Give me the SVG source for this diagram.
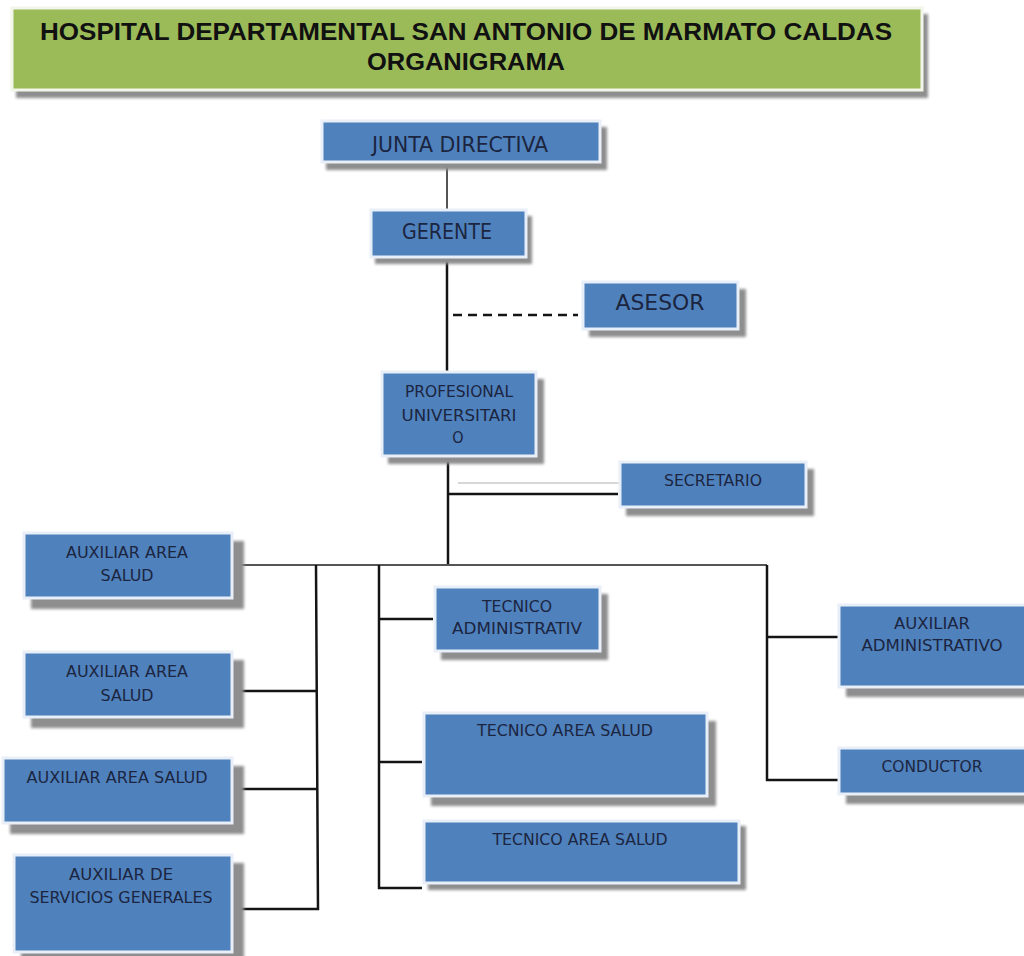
<svg xmlns="http://www.w3.org/2000/svg" width="1024" height="956" viewBox="0 0 1024 956">
<defs>
<filter id="blur" x="-10%" y="-10%" width="120%" height="130%"><feGaussianBlur stdDeviation="1.6"/></filter>
<style>
.sh{fill:#8e8e8e;filter:url(#blur)}
.box{fill:#4f81bd;stroke:#e8eff8;stroke-width:3}
.t{font-family:"DejaVu Sans Condensed","Liberation Sans",sans-serif;fill:#1c2540;text-anchor:middle;font-size:16px}
.tb{font-size:21px}
.title{font-family:"Liberation Sans",Arial,sans-serif;font-weight:bold;fill:#111;text-anchor:middle;font-size:23px}
.c{fill:none;stroke:#141414;stroke-width:2.5}
.cg{fill:none;stroke:#555;stroke-width:2}
</style>
</defs>
<rect width="1024" height="956" fill="#ffffff"/>
<g id="title">
<rect class="sh" x="16" y="14" width="912" height="84"/>
<rect x="12" y="8" width="910" height="82" fill="#9bbb59" stroke="#f2f6ea" stroke-width="3"/>
<text class="title" x="466" y="40" textLength="852" lengthAdjust="spacingAndGlyphs">HOSPITAL DEPARTAMENTAL SAN ANTONIO DE MARMATO CALDAS</text>
<text class="title" x="466" y="70" textLength="198" lengthAdjust="spacingAndGlyphs">ORGANIGRAMA</text>
</g>
<g id="connectors">
<line class="cg" x1="447" y1="163" x2="447" y2="210" stroke-width="1.6"/>
<line class="c" x1="447" y1="257" x2="447" y2="372" stroke="#333" stroke-width="2"/>
<line class="c" x1="453" y1="315" x2="578" y2="315" stroke-width="3" stroke-dasharray="9 6"/>
<line class="c" x1="448" y1="456" x2="448" y2="566"/>
<line class="c" x1="448" y1="494" x2="618" y2="494"/>
<line x1="458" y1="483" x2="620" y2="483" stroke="#b0b0b0" stroke-width="1.2"/>
<polyline class="cg" points="238,565 767,565"/>
<polyline class="c" points="767,565 767,780 839,780"/>
<line class="c" x1="767" y1="637" x2="839" y2="637"/>
<polyline class="c" points="316,565 318,909 238,909"/>
<line class="c" x1="235" y1="691" x2="317" y2="691"/>
<line class="c" x1="235" y1="789" x2="318" y2="789"/>
<polyline class="c" points="379,565 379,888 422,888"/>
<line class="c" x1="379" y1="619" x2="433" y2="619"/>
<line class="c" x1="379" y1="762" x2="422" y2="762"/>
</g>
<g id="junta">
<rect class="sh" x="326" y="127" width="281" height="43"/>
<rect class="box" x="322" y="121" width="278" height="41"/>
<text class="t tb" x="460" y="152" textLength="176" lengthAdjust="spacingAndGlyphs">JUNTA DIRECTIVA</text>
</g>
<g id="gerente">
<rect class="sh" x="375" y="216" width="157" height="48"/>
<rect class="box" x="371" y="210" width="155" height="47"/>
<text class="t tb" x="447" y="239" textLength="90" lengthAdjust="spacingAndGlyphs">GERENTE</text>
</g>
<g id="asesor">
<rect class="sh" x="589" y="289" width="157" height="48"/>
<rect class="box" x="583" y="282" width="155" height="47"/>
<text class="t tb" x="660" y="310" textLength="89" lengthAdjust="spacingAndGlyphs">ASESOR</text>
</g>
<g id="profesional">
<rect class="sh" x="388" y="379" width="156" height="85"/>
<rect class="box" x="382" y="372" width="154" height="84"/>
<text class="t" x="459" y="397" textLength="108" lengthAdjust="spacingAndGlyphs">PROFESIONAL</text>
<text class="t" x="459" y="421" textLength="115" lengthAdjust="spacingAndGlyphs">UNIVERSITARI</text>
<text class="t" x="458" y="443">O</text>
</g>
<g id="secretario">
<rect class="sh" x="626" y="469" width="188" height="47"/>
<rect class="box" x="620" y="462" width="186" height="45"/>
<text class="t" x="713" y="486" textLength="98" lengthAdjust="spacingAndGlyphs">SECRETARIO</text>
</g>
<g id="aux1">
<rect class="sh" x="31" y="541" width="213" height="68"/>
<rect class="box" x="24" y="533" width="208" height="65"/>
<text class="t" x="127" y="558" textLength="122" lengthAdjust="spacingAndGlyphs">AUXILIAR AREA</text>
<text class="t" x="127" y="581" textLength="53" lengthAdjust="spacingAndGlyphs">SALUD</text>
</g>
<g id="aux2">
<rect class="sh" x="31" y="660" width="213" height="68"/>
<rect class="box" x="24" y="652" width="208" height="65"/>
<text class="t" x="127" y="677" textLength="122" lengthAdjust="spacingAndGlyphs">AUXILIAR AREA</text>
<text class="t" x="127" y="701" textLength="53" lengthAdjust="spacingAndGlyphs">SALUD</text>
</g>
<g id="aux3">
<rect class="sh" x="10" y="766" width="234" height="68"/>
<rect class="box" x="3" y="758" width="229" height="65"/>
<text class="t" x="117" y="783" textLength="181" lengthAdjust="spacingAndGlyphs">AUXILIAR AREA SALUD</text>
</g>
<g id="aux4">
<rect class="sh" x="21" y="863" width="223" height="100"/>
<rect class="box" x="14" y="855" width="218" height="97"/>
<text class="t" x="121" y="880" textLength="104" lengthAdjust="spacingAndGlyphs">AUXILIAR DE</text>
<text class="t" x="121" y="903" textLength="183" lengthAdjust="spacingAndGlyphs">SERVICIOS GENERALES</text>
</g>
<g id="tecadm">
<rect class="sh" x="441" y="594" width="167" height="66"/>
<rect class="box" x="435" y="587" width="165" height="64"/>
<text class="t" x="517" y="612" textLength="70" lengthAdjust="spacingAndGlyphs">TECNICO</text>
<text class="t" x="517" y="634" textLength="130" lengthAdjust="spacingAndGlyphs">ADMINISTRATIV</text>
</g>
<g id="tas1">
<rect class="sh" x="431" y="721" width="285" height="85"/>
<rect class="box" x="424" y="713" width="283" height="83"/>
<text class="t" x="565" y="736" textLength="176" lengthAdjust="spacingAndGlyphs">TECNICO AREA SALUD</text>
</g>
<g id="tas2">
<rect class="sh" x="428" y="826" width="318" height="64"/>
<rect class="box" x="424" y="821" width="315" height="62"/>
<text class="t" x="580" y="845" textLength="175" lengthAdjust="spacingAndGlyphs">TECNICO AREA SALUD</text>
</g>
<g id="auxadm">
<rect class="sh" x="846" y="613" width="200" height="84"/>
<rect class="box" x="839" y="605" width="200" height="82"/>
<text class="t" x="932" y="629" textLength="76" lengthAdjust="spacingAndGlyphs">AUXILIAR</text>
<text class="t" x="932" y="651" textLength="141" lengthAdjust="spacingAndGlyphs">ADMINISTRATIVO</text>
</g>
<g id="conductor">
<rect class="sh" x="846" y="756" width="200" height="48"/>
<rect class="box" x="839" y="748" width="200" height="46"/>
<text class="t" x="932" y="772" textLength="101" lengthAdjust="spacingAndGlyphs">CONDUCTOR</text>
</g>
</svg>
